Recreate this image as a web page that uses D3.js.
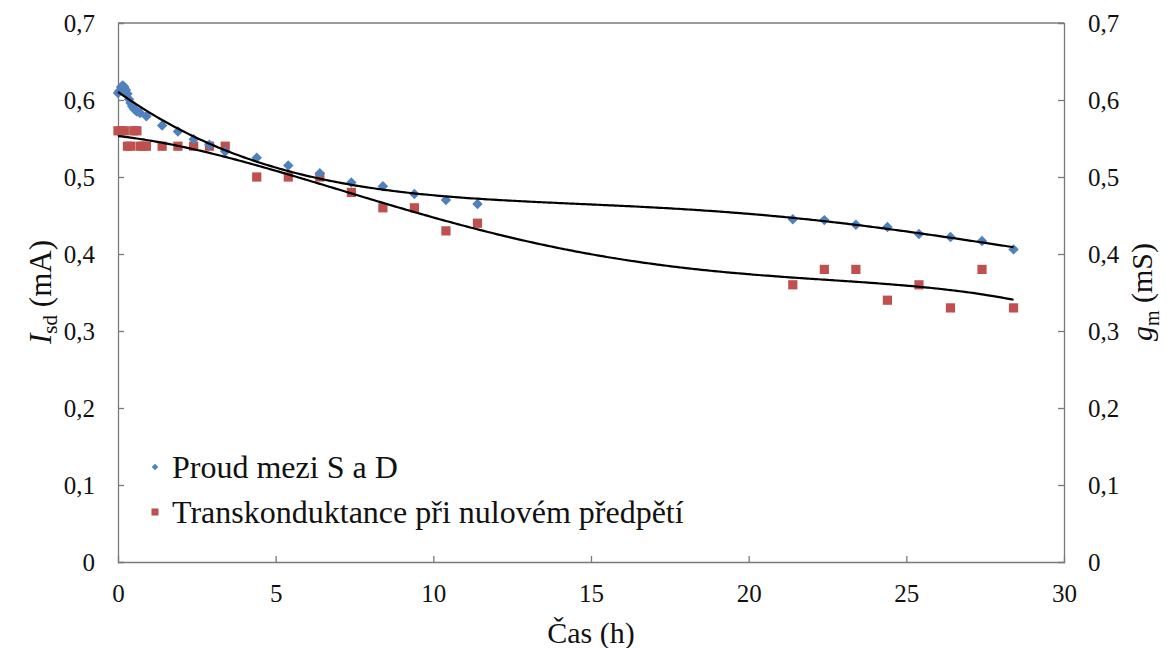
<!DOCTYPE html>
<html>
<head>
<meta charset="utf-8">
<script src="https://cdn.jsdelivr.net/npm/d3@7"></script>
<style>
  html, body { margin: 0; padding: 0; background: #fff; }
  svg { display: block; }
  svg text { font-family: "Liberation Serif", "Times New Roman", Times, Tinos, "Nimbus Roman", FreeSerif, "DejaVu Serif", "Noto Serif", serif; fill: #111; }
</style>
</head>
<body>
<svg id="chart" width="1167" height="648"></svg>
<script>
// Drain current between source and drain over time (mA)
const timeIsd = [0, 0.05, 0.1, 0.15, 0.2, 0.25, 0.3, 0.35, 0.4, 0.45, 0.5, 0.55, 0.6, 0.7, 0.9,
  1.4, 1.9, 2.4, 2.9, 3.4, 4.4, 5.4, 6.4, 7.4, 8.4, 9.4, 10.4, 11.4,
  21.4, 22.4, 23.4, 24.4, 25.4, 26.4, 27.4, 28.4];
const valuesIsd = [0.609, 0.612, 0.617, 0.619, 0.617, 0.613, 0.608, 0.601, 0.596, 0.592, 0.589, 0.587, 0.585, 0.583, 0.579,
  0.567, 0.559, 0.549, 0.542, 0.533, 0.525, 0.515, 0.505, 0.493, 0.488, 0.478, 0.470, 0.465,
  0.445, 0.444, 0.438, 0.435, 0.426, 0.422, 0.417, 0.406];

// Transconductance at zero bias (mS)
const timeGm = [0, 0.1, 0.2, 0.3, 0.4, 0.5, 0.6, 0.7, 0.8, 0.9,
  1.4, 1.9, 2.4, 2.9, 3.4, 4.4, 5.4, 6.4, 7.4, 8.4, 9.4, 10.4, 11.4,
  21.4, 22.4, 23.4, 24.4, 25.4, 26.4, 27.4, 28.4];
const valuesGm = [0.56, 0.56, 0.56, 0.54, 0.54, 0.56, 0.56, 0.54, 0.54, 0.54,
  0.54, 0.54, 0.54, 0.54, 0.54, 0.50, 0.50, 0.50, 0.48, 0.46, 0.46, 0.43, 0.44,
  0.36, 0.38, 0.38, 0.34, 0.36, 0.33, 0.38, 0.33];

const xTicks = [0, 5, 10, 15, 20, 25, 30];
const yTicks = [0, 0.1, 0.2, 0.3, 0.4, 0.5, 0.6, 0.7];
const seriesNames = ["Proud mezi S a D", "Transkonduktance při nulovém předpětí"];
const colors = ["#4F81BD", "#C0504D"];

const svg = d3.select("#chart");
const plotLeft = 118, plotRight = 1064, plotTop = 23, plotBottom = 562;

const x = d3.scaleLinear().domain([0, 30]).range([plotLeft, plotRight]);
const yL = d3.scaleLinear().domain([0, 0.7]).range([plotBottom, plotTop]);
const yR = d3.scaleLinear().domain([0, 0.7]).range([plotBottom, plotTop]);

const fmt = v => v === 0 ? "0" : d3.format(".1f")(v).replace(".", ",");
const axisColor = "#7a7a7a";

// Least-squares polynomial trend
function polyFit(xs, ys, order) {
  const n = order + 1;
  const A = Array.from({length: n}, () => new Array(n + 1).fill(0));
  for (let k = 0; k < xs.length; k++) {
    for (let i = 0; i < n; i++) {
      for (let j = 0; j < n; j++) A[i][j] += Math.pow(xs[k], i + j);
      A[i][n] += ys[k] * Math.pow(xs[k], i);
    }
  }
  for (let i = 0; i < n; i++) {
    let p = i;
    for (let r = i + 1; r < n; r++) if (Math.abs(A[r][i]) > Math.abs(A[p][i])) p = r;
    [A[i], A[p]] = [A[p], A[i]];
    for (let r = 0; r < n; r++) {
      if (r === i) continue;
      const f = A[r][i] / A[i][i];
      for (let c = i; c <= n; c++) A[r][c] -= f * A[i][c];
    }
  }
  const coef = A.map((row, i) => row[n] / row[i]);
  return t => coef.reduce((s, c, i) => s + c * Math.pow(t, i), 0);
}

// Axes frame
const gx = svg.append("g").attr("transform", `translate(0,${plotBottom})`)
  .call(d3.axisBottom(x).tickValues(xTicks).tickSize(-6).tickPadding(22).tickFormat(d => d));
const gl = svg.append("g").attr("transform", `translate(${plotLeft},0)`)
  .call(d3.axisLeft(yL).tickValues(yTicks).tickSize(-6).tickPadding(23).tickFormat(fmt));
const gr = svg.append("g").attr("transform", `translate(${plotRight},0)`)
  .call(d3.axisRight(yR).tickValues(yTicks).tickSize(-6).tickPadding(24).tickFormat(fmt));
svg.append("line").attr("x1", plotLeft).attr("x2", plotRight).attr("y1", plotTop).attr("y2", plotTop)
  .attr("stroke", axisColor).attr("stroke-width", 1.3);

[gx, gl, gr].forEach(g => {
  g.attr("font-family", null).attr("font-size", null);
  g.select(".domain").attr("stroke", axisColor).attr("stroke-width", 1.3);
  g.selectAll(".tick line").attr("stroke", axisColor).attr("stroke-width", 1.3);
  g.selectAll(".tick text").attr("fill", "#111").style("font-size", "25px");
});
gx.selectAll(".tick").filter(d => d === 0 || d === 30).select("line").remove();
gl.selectAll(".tick").filter(d => d === 0 || d === 0.7).select("line").remove();
gr.selectAll(".tick").filter(d => d === 0 || d === 0.7).select("line").remove();

// Axis titles
svg.append("text").attr("x", (plotLeft + plotRight) / 2).attr("y", 643).attr("text-anchor", "middle")
  .style("font-size", "30px").text("Čas (h)");

const tl = svg.append("text").attr("transform", "translate(51,292) rotate(-90)")
  .attr("text-anchor", "middle").style("font-size", "31px");
tl.append("tspan").style("font-style", "italic").text("I");
tl.append("tspan").attr("dy", 6).style("font-size", "21px").text("sd");
tl.append("tspan").attr("dy", -6).text(" (mA)");

const tr = svg.append("text").attr("transform", "translate(1152,292) rotate(-90)")
  .attr("text-anchor", "middle").style("font-size", "30px");
tr.append("tspan").style("font-style", "italic").text("g");
tr.append("tspan").attr("dy", 7).style("font-size", "20px").text("m");
tr.append("tspan").attr("dy", -7).text(" (mS)");

// Markers
const diamond = d3.symbol().type(d3.symbolDiamond2).size(70);
const square = d3.symbol().type(d3.symbolSquare).size(85);

svg.append("g").selectAll("path").data(timeGm.map((t, i) => [t, valuesGm[i]])).join("path")
  .attr("d", square).attr("fill", colors[1])
  .attr("transform", d => `translate(${x(d[0])},${yR(d[1])})`);
svg.append("g").selectAll("path").data(timeIsd.map((t, i) => [t, valuesIsd[i]])).join("path")
  .attr("d", diamond).attr("fill", colors[0])
  .attr("transform", d => `translate(${x(d[0])},${yL(d[1])})`);

// Polynomial trend lines
const trendLine = (xs, ys, scale, order) => {
  const f = polyFit(xs, ys, order);
  const pts = d3.range(0, d3.max(xs) + 0.001, 0.1).map(t => [t, f(t)]);
  svg.append("path").datum(pts)
    .attr("d", d3.line().x(d => x(d[0])).y(d => scale(d[1])).curve(d3.curveMonotoneX))
    .attr("fill", "none").attr("stroke", "#000").attr("stroke-width", 2.2);
};
trendLine(timeIsd, valuesIsd, yL, 4);
trendLine(timeGm, valuesGm, yR, 4);

// Legend
const legend = svg.append("g");
legend.append("path").attr("d", d3.symbol().type(d3.symbolDiamond2).size(28)).attr("fill", colors[0])
  .attr("transform", "translate(155,467)");
legend.append("path").attr("d", d3.symbol().type(d3.symbolSquare).size(50)).attr("fill", colors[1])
  .attr("transform", "translate(155,512)");
legend.append("text").attr("x", 172).attr("y", 478).style("font-size", "32px").text(seriesNames[0]);
legend.append("text").attr("x", 172).attr("y", 523).style("font-size", "32px").text(seriesNames[1]);
</script>
</body>
</html>
